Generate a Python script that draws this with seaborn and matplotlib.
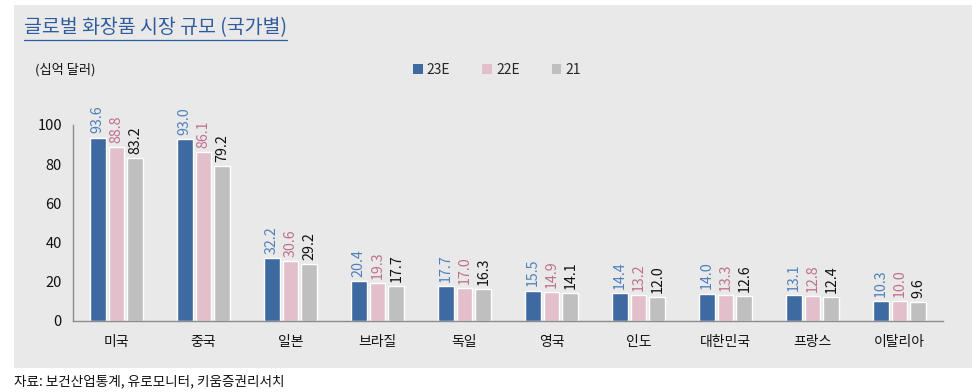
import matplotlib
matplotlib.use("Agg")
import matplotlib.pyplot as plt
import seaborn as sns
import pandas as pd
from matplotlib.patches import Rectangle, Patch
from matplotlib.lines import Line2D

countries = ["미국", "중국", "일본", "브라질", "독일", "영국", "인도", "대한민국", "프랑스", "이탈리아"]
series_names = ["23E", "22E", "21"]
v23e = [93.6, 93.0, 32.2, 20.4, 17.7, 15.5, 14.4, 14.0, 13.1, 10.3]
v22e = [88.8, 86.1, 30.6, 19.3, 17.0, 14.9, 13.2, 13.3, 12.8, 10.0]
v21 = [83.2, 79.2, 29.2, 17.7, 16.3, 14.1, 12.0, 12.6, 12.4, 9.6]
yticks = [0, 20, 40, 60, 80, 100]

bar_colors = ["#3E6AA1", "#E2BFCB", "#BFBFBF"]
label_colors = ["#4F81BD", "#C0708F", "#111111"]

sns.set_theme(style="white")
plt.rcParams['font.family'] = ['Noto Sans CJK KR', 'DejaVu Sans']

rows = []
for name, vals in zip(series_names, [v23e, v22e, v21]):
    for c, v in zip(countries, vals):
        rows.append({"country": c, "series": name, "value": v})
df = pd.DataFrame(rows)

fig = plt.figure(figsize=(9.72, 3.92), dpi=100)
fig.patch.set_facecolor("white")
fig.patches.append(Rectangle((14/972, 1-368/392), 1-14/972, (368-5)/392,
                             transform=fig.transFigure, facecolor="#E9E9E9",
                             edgecolor="none", zorder=-10))

ax = fig.add_axes([73/972, 1-321/392, (943-73)/972, (321-125)/392])
ax.set_facecolor("none")
sns.barplot(data=df, x="country", y="value", hue="series", order=countries,
            hue_order=series_names, palette=bar_colors, width=0.65, gap=0.16,
            saturation=1, legend=False, ax=ax)

for cont, col in zip(ax.containers, label_colors):
    ax.bar_label(cont, fmt="%.1f", rotation=90, padding=3, color=col,
                 fontsize=10.3, clip_on=False)

ax.set_xlim(-0.5, len(countries) - 0.5)
ax.set_ylim(0, 100)
ax.set_yticks(yticks)
ax.set_xlabel("")
ax.set_ylabel("")
for s in ["top", "right"]:
    ax.spines[s].set_visible(False)
for s in ["left", "bottom"]:
    ax.spines[s].set_color("#8C8C8C")
    ax.spines[s].set_linewidth(1.0)
ax.set_xticks([i - 0.5 for i in range(len(countries) + 1)], minor=True)
ax.tick_params(axis="x", which="major", length=0, pad=10, labelsize=10, colors="#111111")
ax.tick_params(axis="x", which="minor", length=5, width=1, color="#8C8C8C", direction="out")
ax.tick_params(axis="y", which="major", length=4, width=1, color="#8C8C8C",
               direction="out", labelsize=10.5, labelcolor="#111111", pad=4)

t = fig.text(24/972, 1-28/392, "글로벌 화장품 시장 규모 (국가별)", color="#2F5C9C",
             fontsize=14, va="center", ha="left")
fig.text(35/972, 1-70/392, "(십억 달러)", color="#111111", fontsize=9.5, va="center", ha="left")
fig.text(14/972, 1-381/392, "자료: 보건산업통계, 유로모니터, 키움증권리서치", color="#111111",
         fontsize=9.8, va="center", ha="left")

handles = [Patch(facecolor=c, edgecolor="none", label=n) for c, n in zip(bar_colors, series_names)]
fig.legend(handles=handles, loc="center", bbox_to_anchor=(497/972, 1-70/392), ncol=3,
           frameon=False, handlelength=0.7, handleheight=0.7, handletextpad=0.3,
           columnspacing=2.3, fontsize=10)

fig.canvas.draw()
bb = t.get_window_extent()
W, H = fig.bbox.width, fig.bbox.height
yline = (bb.y0 - 1) / H
fig.add_artist(Line2D([bb.x0 / W, bb.x1 / W], [yline, yline], color="#2F5C9C",
                      linewidth=0.9, transform=fig.transFigure))

fig.savefig("out.png", dpi=100)
